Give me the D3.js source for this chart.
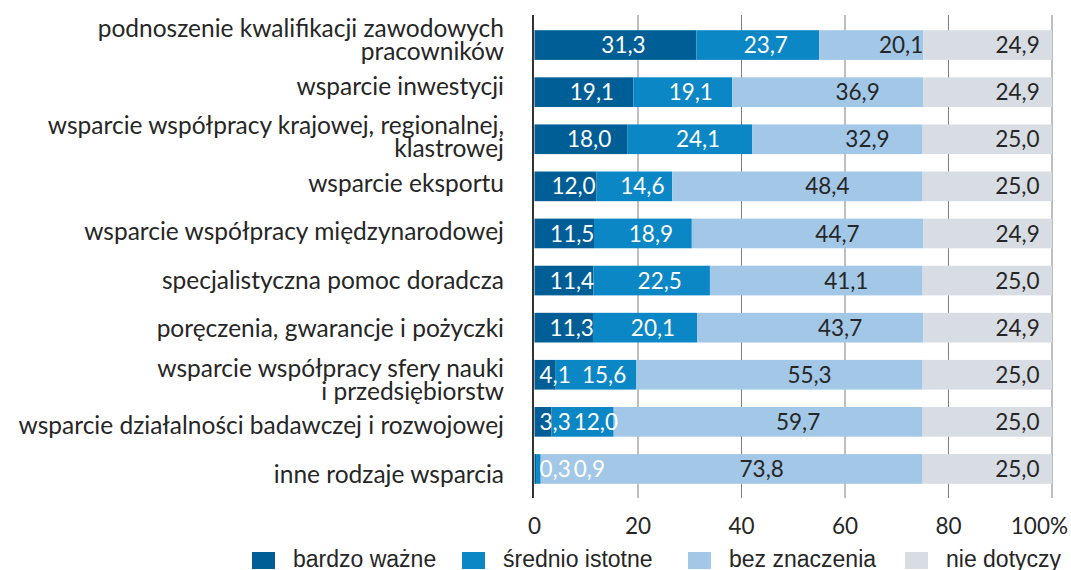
<!DOCTYPE html>
<html>
<head>
<meta charset="utf-8">
<script src="https://cdn.jsdelivr.net/npm/d3@7"></script>
<style>
  body { margin: 0; background: #fff; }
  svg { display: block; }
</style>
</head>
<body>
<div id="chart"></div>
<script>
// Data
var categories = [
  "podnoszenie kwalifikacji zawodowych|pracowników",
  "wsparcie inwestycji",
  "wsparcie współpracy krajowej, regionalnej,|klastrowej",
  "wsparcie eksportu",
  "wsparcie współpracy międzynarodowej",
  "specjalistyczna pomoc doradcza",
  "poręczenia, gwarancje i pożyczki",
  "wsparcie współpracy sfery nauki|i przedsiębiorstw",
  "wsparcie działalności badawczej i rozwojowej",
  "inne rodzaje wsparcia"
];
var seriesNames = ["bardzo ważne", "średnio istotne", "bez znaczenia", "nie dotyczy"];
var bardzoWazne   = [31.3, 19.1, 18.0, 12.0, 11.5, 11.4, 11.3, 4.1, 3.3, 0.3];
var sredniIstotne = [23.7, 19.1, 24.1, 14.6, 18.9, 22.5, 20.1, 15.6, 12.0, 0.9];
var bezZnaczenia  = [20.1, 36.9, 32.9, 48.4, 44.7, 41.1, 43.7, 55.3, 59.7, 73.8];
var nieDotyczy    = [24.9, 24.9, 25.0, 25.0, 24.9, 25.0, 24.9, 25.0, 25.0, 25.0];
var tickValues = [0, 20, 40, 60, 80, 100];

var colors = ["#005e96", "#0b87c6", "#a2c7e7", "#d8dde4"];
var labelColors = ["#ffffff", "#ffffff", "#262626", "#262626"];
var labelShift = [8, 8, 30, 30];

var svgWidth = 1071;
var svgHeight = 570;

var svg = d3.select("#chart")
  .append("svg")
  .attr("width", svgWidth)
  .attr("height", svgHeight);

// build rows for the stack
var rows = categories.map(function(c, i) {
  var r = { cat: c };
  r[seriesNames[0]] = bardzoWazne[i];
  r[seriesNames[1]] = sredniIstotne[i];
  r[seriesNames[2]] = bezZnaczenia[i];
  r[seriesNames[3]] = nieDotyczy[i];
  return r;
});
var stacked = d3.stack().keys(seriesNames)(rows);

// scales
var x = d3.scaleLinear().domain([0, 100]).range([534.5, 1052]);
var y = d3.scaleBand().domain(categories).range([21.5, 492.5]).paddingInner(0.37).paddingOuter(0.185);
var yLabel = d3.scaleBand().domain(categories).range([15, 500]);

var textFont = "Lato, 'Open Sans', sans-serif";

// gridlines
svg.append("g")
  .selectAll("line")
  .data(tickValues.slice(1))
  .enter()
  .append("line")
  .attr("x1", function(d) { return x(d); })
  .attr("x2", function(d) { return x(d); })
  .attr("y1", 15)
  .attr("y2", 498)
  .attr("stroke", "#7f7f7f")
  .attr("stroke-width", 1);

// bars
var layers = svg.append("g")
  .selectAll("g")
  .data(stacked)
  .enter()
  .append("g")
  .attr("fill", function(d, i) { return colors[i]; });

layers.selectAll("rect")
  .data(function(d) { return d; })
  .enter()
  .append("rect")
  .attr("x", function(d) { return x(d[0]); })
  .attr("y", function(d) { return y(d.data.cat); })
  .attr("width", function(d) { return x(d[1]) - x(d[0]); })
  .attr("height", y.bandwidth());

// zero axis line
svg.append("line")
  .attr("x1", 533).attr("x2", 533)
  .attr("y1", 15).attr("y2", 498)
  .attr("stroke", "#333")
  .attr("stroke-width", 2);

// value labels, pushed right when they would overlap
var labelG = svg.append("g")
  .attr("font-family", textFont)
  .attr("font-size", 22.5);

categories.forEach(function(cat, row) {
  var lastRight = x(0) + 2;
  stacked.forEach(function(layer, s) {
    var d = layer[row];
    var v = d[1] - d[0];
    var cx = (x(d[0]) + x(d[1])) / 2 + labelShift[s];
    var t = labelG.append("text")
      .attr("y", y(cat) + y.bandwidth() / 2)
      .attr("dy", "0.36em")
      .attr("text-anchor", "middle")
      .attr("fill", labelColors[s])
      .text(d3.format(".1f")(v).replace(".", ","));
    var w = t.node().getComputedTextLength();
    if (cx - w / 2 < lastRight + 3) cx = lastRight + 3 + w / 2;
    t.attr("x", cx);
    lastRight = cx + w / 2;
  });
});

// category labels
var catG = svg.append("g")
  .attr("font-family", textFont)
  .attr("font-size", 24.5)
  .attr("fill", "#262626")
  .attr("text-anchor", "end");

categories.forEach(function(cat) {
  var lines = cat.split("|");
  var base = yLabel(cat) + yLabel.bandwidth() / 2 + 7 - (lines.length - 1) * 9;
  var t = catG.append("text").attr("x", 504).attr("y", base);
  lines.forEach(function(l, i) {
    t.append("tspan")
      .attr("x", 504)
      .attr("y", base + i * 23)
      .text(l);
  });
});

// x axis tick labels
var tickG = svg.append("g")
  .attr("font-family", textFont)
  .attr("font-size", 22.5)
  .attr("fill", "#262626");

tickValues.forEach(function(v) {
  var t = tickG.append("text")
    .attr("x", x(v))
    .attr("y", 534)
    .attr("text-anchor", "middle")
    .text(v === 100 ? v + "%" : v);
  var w = t.node().getComputedTextLength();
  if (x(v) + w / 2 > svgWidth - 3) {
    t.attr("text-anchor", "end").attr("x", svgWidth - 3);
  }
});

// legend
var legendX = [252, 462, 688, 905];
var legend = svg.append("g")
  .attr("font-family", "'Liberation Sans', Arial, sans-serif")
  .attr("font-size", 23)
  .attr("fill", "#262626");

seriesNames.forEach(function(name, i) {
  legend.append("rect")
    .attr("x", legendX[i])
    .attr("y", 552)
    .attr("width", 23)
    .attr("height", 17)
    .attr("fill", colors[i]);
  legend.append("text")
    .attr("x", legendX[i] + 41)
    .attr("y", 567)
    .text(name);
});
</script>
</body>
</html>
